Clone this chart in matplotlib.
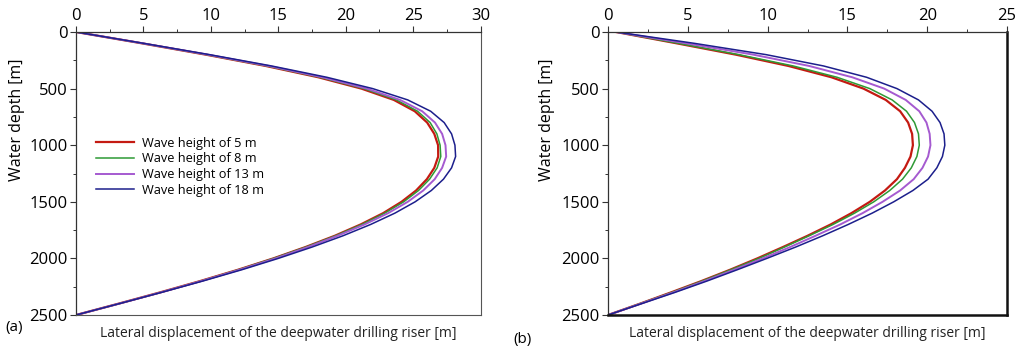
import numpy as np
import matplotlib
matplotlib.use("Agg")
import matplotlib.pyplot as plt
from matplotlib.ticker import MultipleLocator

plt.rcParams["font.family"] = ["Open Sans", "DejaVu Sans"]

DEPTH = [0, 100, 200, 300, 400, 500, 600, 700, 800, 900, 1000, 1100, 1200,
         1300, 1400, 1500, 1600, 1700, 1800, 1900, 2000, 2100, 2200, 2300,
         2400, 2500]

LABELS = ["Wave height of 5 m", "Wave height of 8 m",
          "Wave height of 13 m", "Wave height of 18 m"]
COLORS = ["#c41a12", "#2e9a35", "#a55ad0", "#1c1f8c"]
WIDTHS = [1.6, 1.1, 1.4, 1.1]

# panel (a)
A_H5 = [0, 4.88, 9.62, 14.07, 17.97, 21.16, 23.57, 25.12, 26.04, 26.57, 26.85,
        26.86, 26.57, 26.02, 25.22, 24.14, 22.78, 21.11, 19.19, 17.01, 14.63,
        12.02, 9.21, 6.24, 3.15, 0]
A_H8 = [0, 4.9, 9.68, 14.15, 18.1, 21.34, 23.76, 25.33, 26.26, 26.76, 27.0,
        27.05, 26.78, 26.22, 25.4, 24.3, 22.9, 21.2, 19.25, 17.05, 14.65, 12.05,
        9.25, 6.27, 3.17, 0]
A_H13 = [0, 4.95, 9.78, 14.3, 18.28, 21.56, 24.03, 25.67, 26.62, 27.15, 27.4,
         27.45, 27.15, 26.6, 25.75, 24.6, 23.15, 21.4, 19.4, 17.2, 14.8,
         12.15, 9.3, 6.3, 3.18, 0]
A_H18 = [0, 5.0, 9.9, 14.5, 18.6, 22.0, 24.6, 26.3, 27.3, 27.85, 28.1, 28.15,
         27.85, 27.25, 26.35, 25.15, 23.65, 21.85, 19.8, 17.5, 15.0, 12.3, 9.4,
         6.35, 3.2, 0]

# panel (b)
B_H5 = [0.5, 4.3, 8.0, 11.3, 14.0, 16.0, 17.4, 18.3, 18.8, 19.05, 19.1, 18.95,
        18.6, 18.1, 17.35, 16.4, 15.25, 13.95, 12.5, 10.95, 9.35, 7.65, 5.85,
        3.95, 2.0, 0]
B_H8 = [0.5, 4.4, 8.2, 11.6, 14.35, 16.4, 17.8, 18.7, 19.2, 19.45, 19.5, 19.35,
        19.0, 18.45, 17.65, 16.65, 15.45, 14.1, 12.6, 11.05, 9.45, 7.7, 5.9,
        4.0, 2.0, 0]
B_H13 = [0.5, 4.9, 9.1, 12.6, 15.3, 17.3, 18.65, 19.5, 19.95, 20.15, 20.2,
         20.05, 19.7, 19.15, 18.3, 17.2, 15.95, 14.55, 13.0, 11.4, 9.7, 7.9,
         6.05, 4.1, 2.05, 0]
B_H18 = [0.5, 5.4, 9.9, 13.5, 16.2, 18.1, 19.45, 20.3, 20.8, 21.05, 21.1,
         20.95, 20.6, 20.05, 19.1, 17.9, 16.55, 15.05, 13.45, 11.75, 9.95, 8.1,
         6.2, 4.2, 2.1, 0]

PANELS = [
    dict(series=[A_H5, A_H8, A_H13, A_H18], xmax=30, tag="(a)",
         rect=[0.0746, 0.0922, 0.397, 0.8156], frame=("#555555", 0.8),
         ylab_x=-0.126),
    dict(series=[B_H5, B_H8, B_H13, B_H18], xmax=25, tag="(b)",
         rect=[0.5967, 0.0922, 0.3916, 0.8156], frame=("#111111", 1.8),
         ylab_x=-0.133),
]

fig = plt.figure(figsize=(10.19, 3.47), dpi=100)

for i, p in enumerate(PANELS):
    ax = fig.add_axes(p["rect"])
    for ys, lab, c, lw in zip(p["series"], LABELS, COLORS, WIDTHS):
        ax.plot(ys, DEPTH, color=c, lw=lw, label=lab, solid_joinstyle="round")

    ax.set_xlim(0, p["xmax"])
    ax.set_ylim(2500, 0)
    ax.xaxis.tick_top()
    ax.xaxis.set_major_locator(MultipleLocator(5))
    ax.xaxis.set_minor_locator(MultipleLocator(2.5))
    ax.yaxis.set_major_locator(MultipleLocator(500))
    ax.yaxis.set_minor_locator(MultipleLocator(250))
    ax.tick_params(which="major", direction="out", length=4, width=0.8,
                   labelsize=12, color="#333333", pad=2)
    ax.tick_params(which="minor", direction="out", length=2, width=0.7,
                   color="#333333")

    for side in ["top", "left"]:
        ax.spines[side].set_color("#333333")
        ax.spines[side].set_linewidth(0.9)
    for side in ["right", "bottom"]:
        ax.spines[side].set_color(p["frame"][0])
        ax.spines[side].set_linewidth(p["frame"][1])

    ax.set_ylabel("Water depth [m]", fontsize=11.5)
    ax.yaxis.set_label_coords(p["ylab_x"], 0.69)
    ax.text(0.5, -0.04, "Lateral displacement of the deepwater drilling riser [m]",
            transform=ax.transAxes, ha="center", va="top", fontsize=10,
            color="#222222")

    if i == 0:
        ax.legend(loc="upper left", bbox_to_anchor=(0.02, 0.67), frameon=False,
                  fontsize=9.2, handlelength=3.0, handletextpad=0.6,
                  labelspacing=0.2)

fig.text(5 / 1019, 1 - 327 / 347, "(a)", fontsize=11, va="center", ha="left")
fig.text(513 / 1019, 1 - 340 / 347, "(b)", fontsize=11, va="center", ha="left")

fig.savefig("out.png", dpi=100)
